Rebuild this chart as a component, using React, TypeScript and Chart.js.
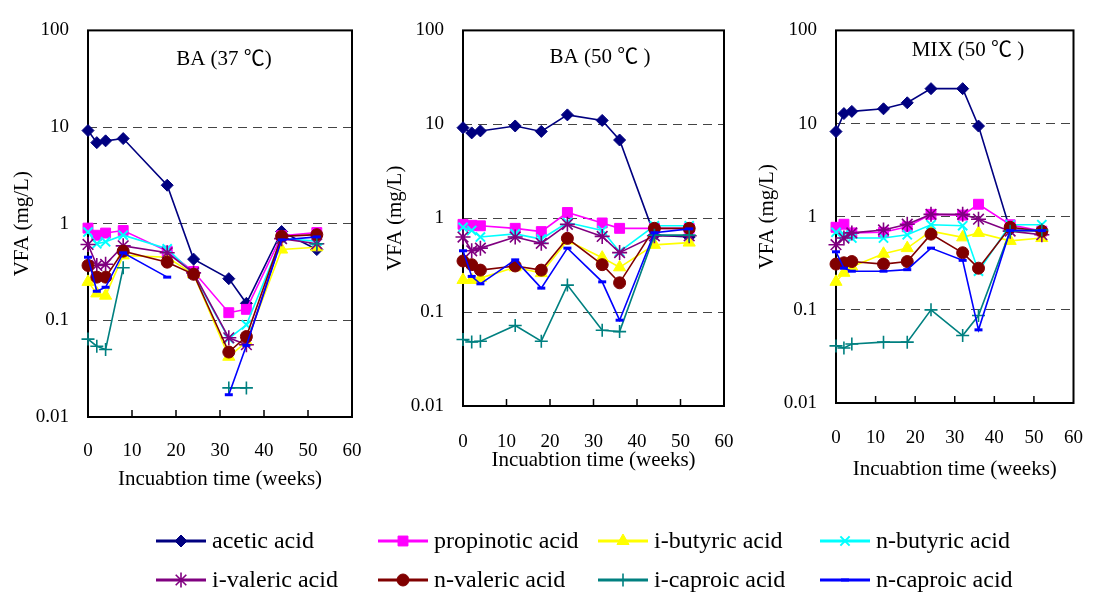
import React, { useEffect, useRef } from 'react';
import { Chart, registerables } from 'chart.js';
import { drawPoint } from 'chart.js/helpers';

Chart.register(...registerables);

// ---------- data ----------
const SERIES_NAMES = [
  'acetic acid',
  'propinotic acid',
  'i-butyric acid',
  'n-butyric acid',
  'i-valeric acid',
  'n-valeric acid',
  'i-caproic acid',
  'n-caproic acid',
];

const X_TICKS = [0, 10, 20, 30, 40, 50, 60];
const Y_TICKS = [0.01, 0.1, 1, 10, 100];

// BA (37 ℃)
const weeksBA37 = [0, 2, 4, 8, 18, 24, 32, 36, 44, 52];
const ba37Acetic = [9.2, 6.9, 7.2, 7.6, 2.5, 0.43, 0.27, 0.15, 0.83, 0.54];
const ba37Propionic = [0.9, 0.76, 0.8, 0.85, 0.52, 0.32, 0.12, 0.13, 0.75, 0.81];
const ba37IButyric = [0.25, 0.19, 0.18, 0.47, 0.45, 0.3, 0.042, 0.06, 0.54, 0.57];
const ba37NButyric = [0.82, 0.62, 0.65, 0.76, 0.55, 0.3, 0.065, 0.09, 0.7, 0.66];
const ba37IValeric = [0.61, 0.37, 0.38, 0.59, 0.5, 0.31, 0.066, 0.056, 0.7, 0.62];
const ba37NValeric = [0.37, 0.28, 0.28, 0.52, 0.4, 0.3, 0.047, 0.068, 0.74, 0.77];
const ba37ICaproic = [0.064, 0.054, 0.05, 0.35, null, null, 0.02, 0.02, null, 0.62];
const ba37NCaproic = [0.45, 0.2, 0.22, 0.5, 0.28, null, 0.017, 0.055, 0.68, 0.73];

// BA (50 ℃)
const weeksBA50 = [0, 2, 4, 12, 18, 24, 32, 36, 44, 52];
const ba50Acetic = [9.2, 8.1, 8.5, 9.6, 8.4, 12.6, 11, 6.8, 0.66, 0.63];
const ba50Propionic = [0.86, 0.84, 0.83, 0.78, 0.72, 1.15, 0.89, 0.78, 0.78, 0.78];
const ba50IButyric = [0.22, 0.22, 0.23, 0.3, 0.26, 0.58, 0.38, 0.3, 0.52, 0.55];
const ba50NButyric = [0.8, 0.74, 0.63, 0.68, 0.6, 0.9, 0.74, 0.44, 0.83, 0.83];
const ba50IValeric = [0.63, 0.45, 0.48, 0.63, 0.54, 0.86, 0.64, 0.43, 0.65, 0.65];
const ba50NValeric = [0.35, 0.32, 0.28, 0.31, 0.28, 0.61, 0.32, 0.205, 0.78, 0.78];
const ba50ICaproic = [0.051, 0.048, 0.049, 0.072, 0.049, 0.194, 0.064, 0.062, 0.66, 0.66];
const ba50NCaproic = [0.45, 0.24, 0.2, 0.36, 0.18, 0.48, 0.21, 0.082, 0.7, 0.77];

// MIX (50 ℃)
const weeksMIX50 = [0, 2, 4, 12, 18, 24, 32, 36, 44, 52];
const mixAcetic = [8.2, 12.8, 13.5, 14.4, 16.7, 23.7, 23.7, 9.4, 0.72, 0.7];
const mixPropionic = [0.77, 0.83, 0.67, 0.68, 0.78, 1.06, 1.04, 1.36, 0.82, 0.7];
const mixIButyric = [0.2, 0.25, 0.29, 0.4, 0.46, 0.7, 0.6, 0.67, 0.55, 0.59];
const mixNButyric = [0.68, 0.64, 0.59, 0.59, 0.64, 0.82, 0.8, 0.26, 0.82, 0.82];
const mixIValeric = [0.5, 0.59, 0.67, 0.72, 0.83, 1.06, 1.06, 0.94, 0.7, 0.64];
const mixNValeric = [0.31, 0.32, 0.33, 0.31, 0.33, 0.65, 0.41, 0.28, 0.77, 0.7];
const mixICaproic = [0.041, 0.039, 0.043, 0.045, 0.045, 0.1, 0.053, 0.087, 0.7, 0.72];
const mixNCaproic = [0.42, 0.28, 0.26, 0.26, 0.27, 0.46, 0.34, 0.061, 0.71, 0.71];

// ---------- styles ----------
const FONT = "'Liberation Serif', 'Times New Roman', 'Noto Sans CJK SC', serif";
const COLORS = ['#000080', '#FF00FF', '#FFFF00', '#00FFFF', '#800080', '#800000', '#008080', '#0000FF'];
const POINT_STYLES = ['rectRot', 'rect', 'triangle', 'crossRot', 'star', 'circle', 'cross', 'line'];
const POINT_RADII = [6, 7, 7, 6.5, 7.5, 6, 6.5, 4];
const POINT_BORDERS = [1, 1, 1, 2, 1.6, 1, 1.6, 3];

const LEGEND_X = [156, 378, 598, 820];
const LEGEND_Y = [541, 580];

type Panel = {
  title: string;
  weeks: number[];
  series: (number | null)[][];
  pad: { left: number; top: number; right: number; bottom: number };
  yWidth: number;
  xHeight: number;
  yTitlePad: number;
  xTickPad: number;
  titleDx: number;
  titleDy: number;
  legend: boolean;
};

const PANELS: Panel[] = [
  {
    title: 'BA (37 ℃)',
    weeks: weeksBA37,
    series: [ba37Acetic, ba37Propionic, ba37IButyric, ba37NButyric, ba37IValeric, ba37NValeric, ba37ICaproic, ba37NCaproic],
    pad: { left: 0, top: 24, right: 755, bottom: 100 },
    yWidth: 88,
    xHeight: 75,
    yTitlePad: 10,
    xTickPad: 23,
    titleDx: 136,
    titleDy: 29,
    legend: true,
  },
  {
    title: 'BA (50 ℃ )',
    weeks: weeksBA50,
    series: [ba50Acetic, ba50Propionic, ba50IButyric, ba50NButyric, ba50IValeric, ba50NValeric, ba50ICaproic, ba50NCaproic],
    pad: { left: 370, top: 27, right: 383, bottom: 119 },
    yWidth: 93,
    xHeight: 67,
    yTitlePad: 13,
    xTickPad: 25,
    titleDx: 137,
    titleDy: 27,
    legend: false,
  },
  {
    title: 'MIX (50 ℃ )',
    weeks: weeksMIX50,
    series: [mixAcetic, mixPropionic, mixIButyric, mixNButyric, mixIValeric, mixNValeric, mixICaproic, mixNCaproic],
    pad: { left: 740, top: 27, right: 12, bottom: 110 },
    yWidth: 96,
    xHeight: 79,
    yTitlePad: 15,
    xTickPad: 24,
    titleDx: 132,
    titleDy: 20,
    legend: false,
  },
];

const decorPlugin = {
  id: 'panelDecor',
  beforeDatasetsDraw(chart: any, _args: any, opts: any) {
    const { ctx, chartArea } = chart;
    const { left, right, top, bottom } = chartArea;
    const xs = chart.scales.x;
    ctx.save();
    ctx.strokeStyle = '#000';
    ctx.lineWidth = 1.5;
    ctx.setLineDash([]);
    for (const v of X_TICKS) {
      if (v === 0 || v === 60) continue;
      const px = xs.getPixelForValue(v);
      ctx.beginPath();
      ctx.moveTo(px, bottom);
      ctx.lineTo(px, bottom - 7);
      ctx.stroke();
    }
    ctx.lineWidth = 2;
    ctx.strokeRect(left, top, right - left, bottom - top);
    ctx.fillStyle = '#000';
    ctx.font = `21px ${FONT}`;
    ctx.textAlign = 'center';
    ctx.textBaseline = 'middle';
    ctx.fillText(opts.text, left + opts.dx, top + opts.dy);
    ctx.restore();
  },
  afterDraw(chart: any, _args: any, opts: any) {
    if (!opts.legend) return;
    const ctx = chart.ctx;
    chart.data.datasets.forEach((ds: any, i: number) => {
      const x0 = LEGEND_X[i % 4];
      const y = LEGEND_Y[Math.floor(i / 4)];
      ctx.save();
      ctx.strokeStyle = ds.borderColor;
      ctx.lineWidth = 3;
      ctx.beginPath();
      ctx.moveTo(x0, y);
      ctx.lineTo(x0 + 50, y);
      ctx.stroke();
      ctx.fillStyle = ds.pointBackgroundColor;
      ctx.strokeStyle = ds.pointBorderColor;
      ctx.lineWidth = ds.pointBorderWidth;
      drawPoint(
        ctx,
        { pointStyle: ds.pointStyle, rotation: 0, radius: ds.pointRadius, borderWidth: ds.pointBorderWidth } as any,
        x0 + 25,
        y
      );
      ctx.fillStyle = '#000';
      ctx.font = `24px ${FONT}`;
      ctx.textAlign = 'left';
      ctx.textBaseline = 'middle';
      ctx.fillText(ds.label, x0 + 56, y + 1);
      ctx.restore();
    });
  },
};

function buildConfig(p: Panel): any {
  const datasets = p.series.map((vals, i) => ({
    label: SERIES_NAMES[i],
    data: p.weeks.map((w, j) => ({ x: w, y: vals[j] })),
    borderColor: COLORS[i],
    backgroundColor: COLORS[i],
    borderWidth: 1.6,
    pointStyle: POINT_STYLES[i],
    pointRadius: POINT_RADII[i],
    pointBorderWidth: POINT_BORDERS[i],
    pointBackgroundColor: COLORS[i],
    pointBorderColor: COLORS[i],
    showLine: true,
    spanGaps: false,
    tension: 0,
    clip: false,
    order: 8 - i,
  }));
  const tickFont = { family: FONT, size: 19 };
  const titleFont = { family: FONT, size: 21 };
  return {
    type: 'line',
    data: { datasets },
    plugins: [decorPlugin],
    options: {
      responsive: false,
      maintainAspectRatio: false,
      animation: false,
      events: [],
      layout: { padding: p.pad },
      plugins: {
        legend: { display: false },
        tooltip: { enabled: false },
        panelDecor: { text: p.title, dx: p.titleDx, dy: p.titleDy, legend: p.legend },
      },
      scales: {
        x: {
          type: 'linear',
          min: 0,
          max: 60,
          afterBuildTicks: (s: any) => {
            s.ticks = X_TICKS.map((v) => ({ value: v }));
          },
          ticks: { padding: p.xTickPad, color: '#000', font: tickFont, maxRotation: 0, autoSkip: false },
          grid: { display: false, drawTicks: false },
          border: { display: false },
          title: { display: true, text: 'Incuabtion time (weeks)', color: '#000', font: titleFont, padding: 0 },
          afterFit: (s: any) => {
            s.height = p.xHeight;
          },
        },
        y: {
          type: 'logarithmic',
          min: 0.01,
          max: 100,
          afterBuildTicks: (s: any) => {
            s.ticks = Y_TICKS.map((v) => ({ value: v }));
          },
          ticks: {
            padding: 19,
            color: '#000',
            font: tickFont,
            autoSkip: false,
            callback: (v: any) => String(v),
          },
          grid: { color: '#444444', lineWidth: 1, drawTicks: false },
          border: { display: false, dash: [9, 6] },
          title: { display: true, text: 'VFA (mg/L)', color: '#000', font: titleFont, padding: { top: p.yTitlePad, bottom: 0 } },
          afterFit: (s: any) => {
            s.width = p.yWidth;
          },
        },
      },
    },
  };
}

function PanelChart({ panel }: { panel: Panel }) {
  const ref = useRef<HTMLCanvasElement | null>(null);
  useEffect(() => {
    if (!ref.current) return;
    const chart = new Chart(ref.current, buildConfig(panel));
    return () => chart.destroy();
  }, [panel]);
  return (
    <canvas
      ref={ref}
      width={1107}
      height={592}
      style={{ position: 'absolute', left: 0, top: 0, width: 1107, height: 592, display: 'block' }}
    />
  );
}

export default function App() {
  return (
    <div style={{ position: 'absolute', left: 0, top: 0, width: 1107, height: 592, background: '#ffffff', overflow: 'hidden' }}>
      {PANELS.map((p, i) => (
        <PanelChart key={i} panel={p} />
      ))}
    </div>
  );
}
